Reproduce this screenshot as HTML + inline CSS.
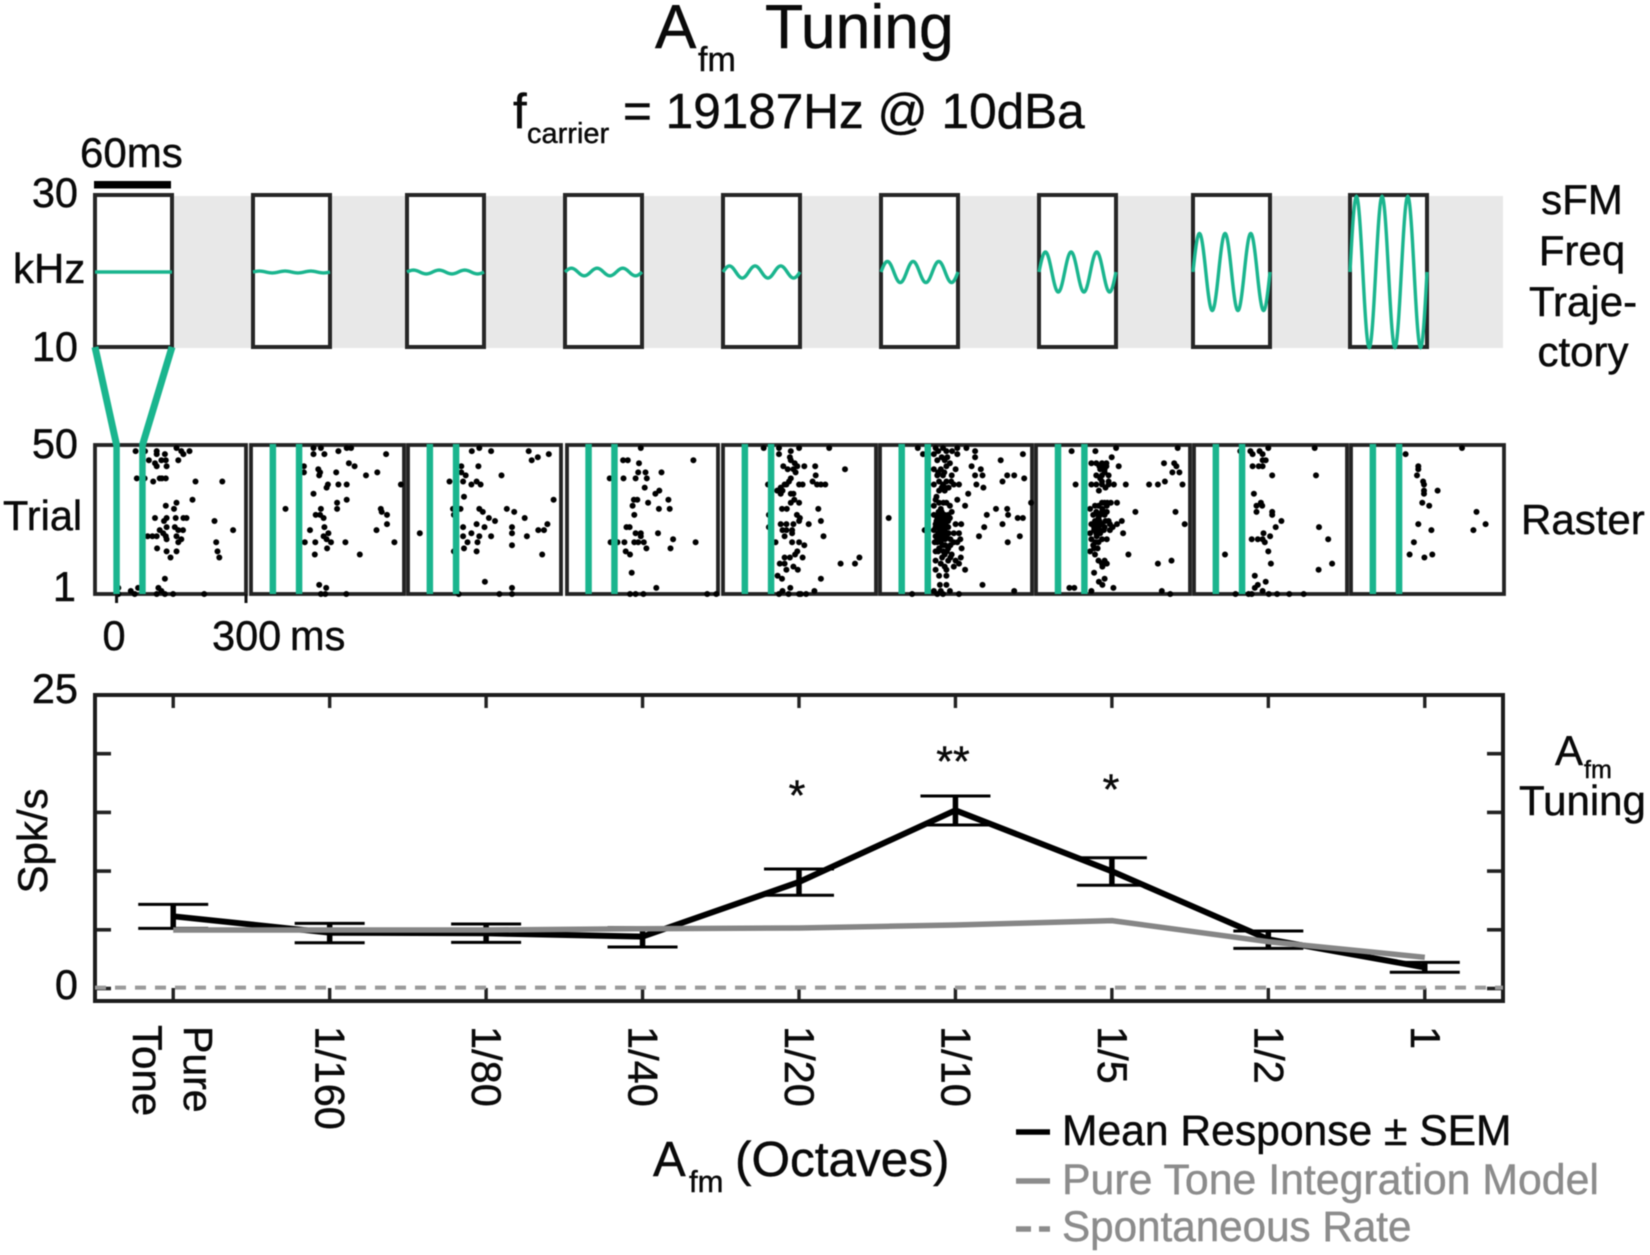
<!DOCTYPE html>
<html lang="en">
<head>
<meta charset="utf-8">
<title>Afm Tuning</title>
<style>
html,body{margin:0;padding:0;background:#fff;}
svg{display:block;filter:blur(0.4px);}
text{font-family:"Liberation Sans",Arial,sans-serif;fill:#0a0a0a;stroke:#0a0a0a;stroke-width:0.45px;}
text.gray{fill:#8c8c8c;stroke:#8c8c8c;}
</style>
</head>
<body>
<svg id="figure" xmlns="http://www.w3.org/2000/svg" width="1650" height="1255" viewBox="0 0 1650 1255">
  <rect x="0" y="0" width="1650" height="1255" fill="#fff"/>
  <g>
    <text x="655" y="48" font-size="62">A</text>
    <text x="698" y="71" font-size="34">fm</text>
    <text x="765" y="48" font-size="62.5">Tuning</text>
  </g>
  <g>
    <text x="513" y="128" font-size="49">f</text>
    <text x="527" y="143" font-size="29">carrier</text>
    <text x="623" y="128" font-size="49.5">= 19187Hz @ 10dBa</text>
  </g>

  <rect x="172" y="196" width="1331" height="152" fill="#e8e8e8"/>
  <g id="trajectory-layer"></g>
  <g id="raster-layer"></g>
  <g id="tuning-layer"></g>

  <rect x="94" y="181" width="77" height="7.5" fill="#000"/>
  <text x="80" y="167" font-size="42">60ms</text>
  <text x="78" y="207" font-size="41.5" text-anchor="end">30</text>
  <text x="13" y="283" font-size="42">kHz</text>
  <text x="78" y="361" font-size="41.5" text-anchor="end">10</text>

  <g font-size="42" text-anchor="middle">
    <text x="1582" y="214" text-anchor="middle">sFM</text>
    <text x="1582" y="265" text-anchor="middle">Freq</text>
    <text x="1583" y="316" text-anchor="middle">Traje-</text>
    <text x="1583" y="366" text-anchor="middle">ctory</text>
  </g>

  <text x="78" y="458" font-size="41.5" text-anchor="end">50</text>
  <text x="3" y="530" font-size="41.5">Trial</text>
  <text x="76" y="601" font-size="41.5" text-anchor="end">1</text>
  <text x="1521" y="534" font-size="42">Raster</text>
  <text x="114" y="650" font-size="41.5" text-anchor="middle">0</text>
  <text x="212" y="650" font-size="41.5">300</text>
  <text x="290" y="650" font-size="41.5">ms</text>

  <text x="78" y="703" font-size="41.5" text-anchor="end">25</text>
  <text x="78" y="999" font-size="41.5" text-anchor="end">0</text>
  <text transform="translate(47 841) rotate(-90)" font-size="42" text-anchor="middle">Spk/s</text>

  <g>
    <text x="1555" y="765" font-size="42">A</text>
    <text x="1584" y="778" font-size="25">fm</text>
    <text x="1519" y="815" font-size="42">Tuning</text>
  </g>

  <text x="797" y="810" font-size="43" text-anchor="middle">*</text>
  <text x="953" y="776" font-size="43" text-anchor="middle">**</text>
  <text x="1111" y="804" font-size="43" text-anchor="middle">*</text>

  <g>
    <text x="653" y="1176" font-size="49">A</text>
    <text x="689" y="1192" font-size="31">fm</text>
    <text x="735" y="1176" font-size="49.5">(Octaves)</text>
  </g>

  <g>
    <line x1="1016" y1="1132" x2="1050" y2="1132" stroke="#000" stroke-width="5.5"/>
    <text x="1062" y="1145" font-size="42.6">Mean Response ± SEM</text>
    <line x1="1016" y1="1181" x2="1050" y2="1181" stroke="#8c8c8c" stroke-width="5.5"/>
    <text class="gray" x="1062" y="1194" font-size="42.8">Pure Tone Integration Model</text>
    <line x1="1016" y1="1229" x2="1050" y2="1229" stroke="#8c8c8c" stroke-width="5.5" stroke-dasharray="15 8"/>
    <text class="gray" x="1062" y="1241" font-size="42.2">Spontaneous Rate</text>
  </g>
</svg>

<script>
// ----- Data -----
const amplitudeLabels = ["Pure Tone", "1/160", "1/80", "1/40", "1/20", "1/10", "1/5", "1/2", "1"];
const trajectoryDepth = [0, 0.012, 0.025, 0.05, 0.08, 0.14, 0.265, 0.51, 1];
const trajectoryCycles = 3;
const stimulusWindow = [0, 60];
const rasterTimeRange = [-50, 300];
const rasterTrialRange = [1, 50];

const meanResponse = [6.15, 4.75, 4.7, 4.42, 9.07, 15.18, 9.98, 4.19, 1.8];
const semUpper = [7.17, 5.55, 5.49, 5.18, 10.18, 16.4, 11.14, 4.9, 2.23];
const semLower = [5.12, 3.9, 3.93, 3.53, 7.94, 13.93, 8.79, 3.42, 1.38];
const modelResponse = [4.98, 4.98, 4.98, 5.09, 5.15, 5.41, 5.78, 3.99, 2.66];
const spontaneousRate = 0.07;
const responseTicks = [0, 5, 10, 15, 20, 25];

const spikesPureTone = [[44,48],[66,48],[93,48],[93,47],[112,47],[139,49],[150,48],[155,47],[169,48],[75,45],[104,45],[143,45],[89,44],[114,45],[93,43],[116,43],[47,39],[65,39],[85,38],[100,39],[105,39],[114,39],[183,38],[245,38],[176,32],[139,31],[114,30],[133,29],[89,26],[116,26],[137,26],[155,26],[162,26],[227,25],[110,25],[135,23],[116,23],[154,22],[270,22],[143,22],[100,22],[108,21],[72,20],[83,20],[93,20],[114,20],[116,19],[139,20],[150,19],[143,18],[231,18],[94,16],[116,15],[139,15],[234,15],[125,13],[238,13],[112,6],[97,3],[104,2],[50,3],[33,2],[42,1],[93,1],[112,1],[131,1],[203,1],[4,3],[4,1]];
const spikes1of160 = [[93,47],[93,49],[110,49],[118,47],[150,48],[169,49],[179,49],[259,47],[174,44],[187,43],[71,43],[71,41],[104,42],[108,41],[106,40],[145,41],[213,40],[239,41],[150,37],[169,37],[126,37],[123,36],[293,37],[93,34],[147,31],[169,32],[147,29],[29,29],[110,29],[247,29],[249,28],[261,27],[98,27],[108,27],[116,26],[261,24],[118,23],[237,22],[85,22],[127,21],[116,20],[73,18],[97,18],[123,19],[133,18],[166,18],[278,18],[124,16],[96,14],[199,14],[106,4],[122,3],[120,1],[110,1],[168,1]];
const spikes1of80 = [[96,48],[113,49],[140,48],[226,48],[272,47],[233,45],[247,46],[72,43],[111,43],[72,41],[82,40],[164,40],[45,38],[76,38],[95,37],[107,38],[116,37],[78,33],[283,32],[53,29],[70,29],[113,29],[121,28],[176,29],[193,28],[217,26],[135,26],[149,25],[55,27],[107,24],[76,23],[125,23],[188,23],[269,24],[248,22],[261,22],[-23,21],[95,21],[76,20],[113,20],[140,20],[188,21],[222,20],[188,17],[109,18],[86,18],[78,16],[55,15],[107,15],[257,14],[126,5],[188,3],[188,1],[159,1],[66,1]];
const spikes1of40 = [[121,49],[243,45],[80,45],[91,45],[117,44],[115,41],[132,41],[169,41],[135,39],[49,39],[81,39],[109,39],[130,36],[155,34],[164,35],[105,32],[113,32],[185,32],[138,31],[102,30],[163,29],[188,29],[106,27],[88,23],[95,23],[109,21],[121,21],[161,21],[121,20],[196,19],[106,18],[115,18],[128,18],[51,18],[67,18],[83,18],[248,18],[134,16],[190,16],[86,15],[96,14],[100,8],[157,3],[96,1],[109,1],[127,1],[275,1],[296,1]];
const spikes1of20 = [[43,49],[78,49],[124,49],[193,49],[105,48],[78,47],[103,46],[114,44],[105,45],[120,43],[136,43],[161,43],[88,43],[98,42],[111,42],[229,42],[116,41],[162,40],[105,39],[101,38],[155,38],[165,37],[184,37],[174,37],[124,37],[132,37],[53,37],[91,37],[82,36],[95,37],[74,35],[86,35],[82,34],[105,34],[111,34],[113,32],[105,31],[124,31],[85,29],[96,29],[168,29],[119,27],[126,26],[174,25],[146,24],[124,25],[82,24],[95,24],[111,24],[55,27],[55,23],[86,22],[95,22],[108,22],[91,20],[108,21],[180,20],[70,18],[108,18],[124,18],[136,17],[120,15],[115,14],[132,13],[91,13],[103,13],[80,11],[91,11],[111,10],[121,9],[95,9],[75,7],[85,6],[174,6],[219,11],[252,11],[262,13],[104,3],[86,2],[78,1],[100,1],[124,1],[140,1],[159,2],[128,1]];
const spikes1of10 = [[37,49],[78,49],[95,49],[128,49],[149,49],[49,47],[74,47],[103,48],[128,47],[169,48],[169,46],[228,45],[279,47],[82,45],[99,45],[111,44],[103,43],[74,42],[124,42],[161,43],[182,42],[169,40],[186,40],[82,40],[95,40],[115,40],[243,40],[259,40],[282,39],[232,38],[86,38],[103,38],[74,37],[95,37],[120,37],[132,37],[172,37],[188,36],[86,35],[99,35],[153,34],[78,32],[128,32],[298,31],[146,30],[74,30],[103,31],[111,30],[90,29],[115,28],[217,29],[243,29],[196,27],[245,27],[267,26],[279,26],[-30,26],[74,27],[107,27],[90,26],[111,26],[232,24],[190,23],[85,25],[95,25],[78,24],[90,24],[101,24],[124,24],[137,24],[82,23],[95,23],[107,23],[74,22],[88,22],[99,22],[53,22],[120,21],[132,21],[90,20],[78,20],[103,20],[178,20],[272,20],[135,19],[82,19],[128,18],[244,18],[76,18],[90,18],[120,18],[86,16],[107,16],[78,15],[138,16],[99,14],[115,14],[93,13],[136,13],[78,12],[107,12],[124,12],[132,11],[99,10],[120,10],[146,9],[78,9],[103,9],[86,7],[103,7],[186,4],[88,4],[103,4],[74,2],[90,2],[111,2],[82,1],[132,1],[259,2],[24,1],[95,1],[85,27],[92,27],[99,27],[85,28],[92,28],[82,26],[99,26],[104,26],[80,25],[90,25],[101,25],[107,25],[84,24],[96,24],[78,23],[88,23],[101,23],[84,21],[92,21],[99,21],[108,21],[86,20],[96,20],[84,19],[92,19],[100,19],[112,19],[82,18],[100,17],[94,17],[112,17],[84,15],[96,15],[104,15],[90,42],[98,41],[84,41],[92,36],[100,36],[108,36],[114,38],[80,33],[86,31],[96,31],[90,11],[112,13],[84,48],[116,48],[105,46],[92,46]];
const spikes1of5 = [[31,48],[85,48],[132,49],[272,49],[122,46],[76,44],[87,44],[100,44],[110,44],[241,44],[264,44],[269,43],[138,43],[100,43],[110,43],[96,42],[106,42],[260,41],[276,41],[87,40],[100,40],[115,40],[100,38],[115,38],[40,37],[76,37],[87,37],[100,37],[115,37],[127,37],[154,37],[207,37],[227,37],[243,38],[283,37],[93,35],[106,31],[120,31],[134,31],[92,30],[111,30],[101,29],[73,29],[87,28],[111,28],[176,28],[267,28],[96,27],[106,27],[92,26],[115,25],[145,25],[134,24],[288,24],[76,24],[87,24],[100,24],[124,23],[82,23],[92,23],[106,23],[148,21],[73,21],[87,21],[96,21],[111,19],[76,19],[85,18],[92,18],[82,16],[73,15],[160,14],[92,12],[106,12],[227,11],[258,12],[111,11],[101,10],[82,8],[106,6],[93,5],[101,4],[126,3],[26,3],[37,3],[76,2],[236,2],[255,1],[84,30],[100,31],[112,31],[80,27],[100,28],[84,25],[94,25],[108,25],[118,24],[82,22],[94,22],[104,22],[118,22],[88,20],[100,19],[80,17],[90,16],[84,14],[100,11],[94,43],[106,41],[96,39],[108,36],[92,27]];
const spikes1of2 = [[120,49],[226,49],[56,48],[79,48],[100,48],[84,47],[107,47],[107,45],[114,45],[84,43],[98,43],[107,43],[129,40],[229,40],[87,34],[103,31],[93,30],[106,30],[93,28],[129,28],[129,27],[150,25],[137,23],[236,23],[109,21],[124,20],[82,19],[96,19],[107,19],[112,18],[257,19],[120,15],[21,14],[126,11],[266,11],[235,9],[89,7],[114,5],[96,4],[89,3],[107,2],[82,1],[45,1],[75,1],[140,1],[168,1],[201,1],[121,1]];
const spikes1of1 = [[204,49],[75,47],[104,43],[104,42],[101,40],[115,38],[117,37],[117,35],[117,34],[148,35],[113,31],[129,30],[237,28],[104,24],[258,24],[134,22],[230,22],[94,18],[84,14],[118,13],[136,14]];
const spikeSets = [spikesPureTone, spikes1of160, spikes1of80, spikes1of40, spikes1of20, spikes1of10, spikes1of5, spikes1of2, spikes1of1];

// ----- Layout -----
const SVGNS = "http://www.w3.org/2000/svg";
const GREEN = "#1ab58e";
const trajLeft = [95, 253, 407, 565, 723, 881, 1039, 1193, 1350];
const TRAJ_W = 77, TRAJ_TOP = 196, TRAJ_BOTTOM = 347;
const rasterLeft = [95, 251, 408, 567, 723, 880, 1036, 1194, 1351];
const rasterRight = [246, 404, 561, 718, 876, 1032, 1190, 1347, 1504];
const RASTER_TOP = 445, RASTER_BOTTOM = 594;
const PLOT = {left: 95, right: 1503, top: 695, bottom: 1001};

function make(tag, attrs, parent) {
  const node = document.createElementNS(SVGNS, tag);
  for (const key in attrs) node.setAttribute(key, attrs[key]);
  parent.appendChild(node);
  return node;
}

// Axis functions
function trajX(panel, frac) { return trajLeft[panel] + frac * TRAJ_W; }
function trajY(deviation) { return (TRAJ_TOP + TRAJ_BOTTOM) / 2 + 0.5 - deviation * (TRAJ_BOTTOM - TRAJ_TOP) / 2; }
function rasterX(panel, ms) {
  const span = rasterTimeRange[1] - rasterTimeRange[0];
  return rasterLeft[panel] + (ms - rasterTimeRange[0]) / span * (rasterRight[panel] - rasterLeft[panel]);
}
function rasterY(trial) {
  const span = rasterTrialRange[1] - rasterTrialRange[0];
  return RASTER_BOTTOM - (trial - rasterTrialRange[0]) / span * (RASTER_BOTTOM - RASTER_TOP);
}
function tuneX(i) { return PLOT.left + (i + 0.5) / amplitudeLabels.length * (PLOT.right - PLOT.left); }
function tuneY(v) { return 988.5 - v * 11.74; }

// ----- Trajectory panels -----
const trajLayer = document.getElementById("trajectory-layer");
trajectoryDepth.forEach(function (depth, p) {
  const box = make("rect", {x: trajLeft[p], y: TRAJ_TOP - 1, width: TRAJ_W, height: TRAJ_BOTTOM - TRAJ_TOP + 1, fill: "#fff", stroke: "#262626", "stroke-width": 4}, trajLayer);
  
  
  const pts = [];
  for (let s = 0; s <= 180; s++) {
    const f = s / 180;
    pts.push(trajX(p, f).toFixed(2) + "," + trajY(depth * Math.sin(2 * Math.PI * trajectoryCycles * f)).toFixed(2));
  }
  const wave = make("polyline", {points: pts.join(" "), fill: "none", stroke: GREEN, "stroke-width": 3.4}, trajLayer);
  
  
});

// ----- Raster panels -----
const rasterLayer = document.getElementById("raster-layer");
spikeSets.forEach(function (spikes, p) {
  const frame = make("rect", {x: rasterLeft[p], y: RASTER_TOP, width: rasterRight[p] - rasterLeft[p], height: RASTER_BOTTOM - RASTER_TOP, fill: "#fff", stroke: "#222", "stroke-width": 3.8}, rasterLayer);
  
  
  spikes.forEach(function (spike) {
    const dot = make("circle", {cx: rasterX(p, spike[0]).toFixed(1), cy: rasterY(spike[1]).toFixed(1), r: 3, fill: "#000"}, rasterLayer);
    
    
  });
  stimulusWindow.forEach(function (ms) {
    const bar = make("line", {x1: rasterX(p, ms), y1: RASTER_TOP - 1, x2: rasterX(p, ms), y2: RASTER_BOTTOM, stroke: GREEN, "stroke-width": 6.5}, rasterLayer);
    
    
  });
});
[0, 300].forEach(function (ms) {
  const tick = make("line", {x1: rasterX(0, ms), y1: RASTER_BOTTOM, x2: rasterX(0, ms), y2: 603, stroke: "#111", "stroke-width": 3}, rasterLayer);
  
  
});
[[95, 347, rasterX(0, stimulusWindow[0]), RASTER_TOP], [172, 347, rasterX(0, stimulusWindow[1]), RASTER_TOP]].forEach(function (c) {
  const link = make("line", {x1: c[0], y1: c[1], x2: c[2], y2: c[3], stroke: GREEN, "stroke-width": 7}, rasterLayer);
  
  
});

// ----- Tuning plot -----
const tune = document.getElementById("tuning-layer");
const tickStroke = {stroke: "#222"};
amplitudeLabels.forEach(function (label, i) {
  const top = make("line", {x1: tuneX(i), y1: PLOT.top, x2: tuneX(i), y2: PLOT.top + 13, stroke: tickStroke.stroke, "stroke-width": 3.4}, tune);
  
  
  const bottom = make("line", {x1: tuneX(i), y1: PLOT.bottom, x2: tuneX(i), y2: PLOT.bottom - 13, stroke: tickStroke.stroke, "stroke-width": 3.4}, tune);
  
  
});
responseTicks.forEach(function (v) {
  const left = make("line", {x1: PLOT.left, y1: tuneY(v), x2: PLOT.left + 16, y2: tuneY(v), stroke: tickStroke.stroke, "stroke-width": 3.6}, tune);
  
  
  const right = make("line", {x1: PLOT.right, y1: tuneY(v), x2: PLOT.right - 16, y2: tuneY(v), stroke: tickStroke.stroke, "stroke-width": 3.6}, tune);
  
  
});
const plotFrame = make("rect", {x: PLOT.left, y: PLOT.top, width: PLOT.right - PLOT.left, height: PLOT.bottom - PLOT.top, fill: "none", stroke: "#1c1c1c", "stroke-width": 4}, tune);



const spontLine = make("line", {x1: PLOT.left, y1: tuneY(spontaneousRate), x2: PLOT.right, y2: tuneY(spontaneousRate), stroke: "#9a9a9a", "stroke-width": 4, "stroke-dasharray": "11 9"}, tune);



meanResponse.forEach(function (m, i) {
  const stem = make("line", {x1: tuneX(i), y1: tuneY(semUpper[i]), x2: tuneX(i), y2: tuneY(semLower[i]), stroke: "#000", "stroke-width": 5.5}, tune);
  
  
  const capU = make("line", {x1: tuneX(i) - 35, y1: tuneY(semUpper[i]), x2: tuneX(i) + 35, y2: tuneY(semUpper[i]), stroke: "#000", "stroke-width": 3}, tune);
  
  
  const capL = make("line", {x1: tuneX(i) - 35, y1: tuneY(semLower[i]), x2: tuneX(i) + 35, y2: tuneY(semLower[i]), stroke: "#000", "stroke-width": 3}, tune);
  
  
});
const meanLine = make("polyline", {points: meanResponse.map(function (v, i) { return tuneX(i).toFixed(1) + "," + tuneY(v).toFixed(1); }).join(" "), fill: "none", stroke: "#000", "stroke-width": 6, "stroke-linejoin": "round"}, tune);


const modelLine = make("polyline", {points: modelResponse.map(function (v, i) { return tuneX(i).toFixed(1) + "," + tuneY(v).toFixed(1); }).join(" "), fill: "none", stroke: "#868686", "stroke-width": 5.5, "stroke-linejoin": "round"}, tune);



// X category labels (rotated, reading downward)
function addRotatedLabel(text, x, y, size) {
  const t = make("text", {transform: "translate(" + x + " " + y + ") rotate(90)", "font-size": size}, tune);
  t.textContent = text;
  
  
}
amplitudeLabels.forEach(function (label, i) {
  if (i === 0) {
    const parts = label.split(" ");
    addRotatedLabel(parts[0], tuneX(0) + 11, 1026, 41);
    addRotatedLabel(parts[1], tuneX(0) - 40, 1025, 42);
  } else {
    addRotatedLabel(label, tuneX(i) - 14, 1026, 41.5);
  }
});
</script>
</body>
</html>
